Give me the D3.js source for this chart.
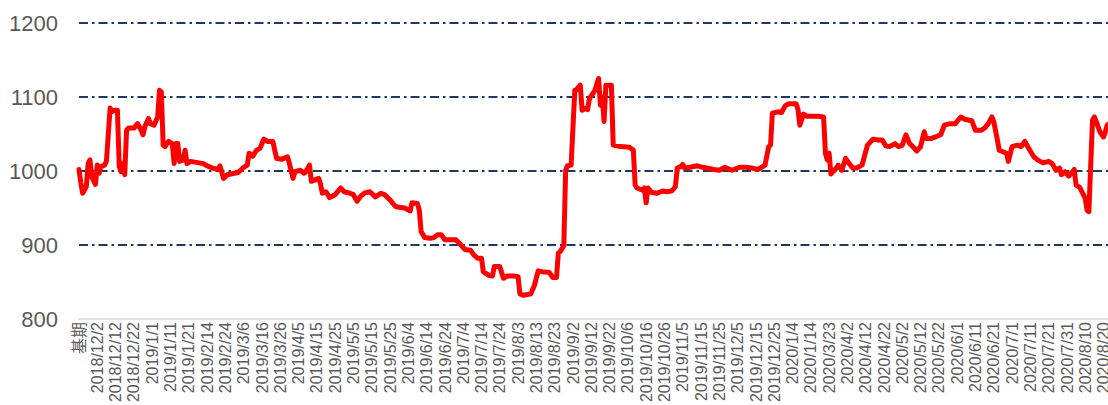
<!DOCTYPE html>
<html>
<head>
<meta charset="utf-8">
<script src="https://cdn.jsdelivr.net/npm/d3@7/dist/d3.min.js"></script>
<style>
  html, body { margin: 0; padding: 0; background: #fff; }
  svg { display: block; font-family: "Liberation Sans", Arial, "Noto Sans CJK SC", sans-serif; }
</style>
</head>
<body>
<svg id="chart" width="1108" height="405"></svg>
<script>
// category labels, one every 10 categories (index 0 is the base period)
const tickLabels = [
  "基期", "2018/12/2", "2018/12/12", "2018/12/22", "2019/1/1", "2019/1/11", "2019/1/21",
  "2019/2/14", "2019/2/24", "2019/3/6", "2019/3/16", "2019/3/26", "2019/4/5", "2019/4/15",
  "2019/4/25", "2019/5/5", "2019/5/15", "2019/5/25", "2019/6/4", "2019/6/14", "2019/6/24",
  "2019/7/4", "2019/7/14", "2019/7/24", "2019/8/3", "2019/8/13", "2019/8/23", "2019/9/2",
  "2019/9/12", "2019/9/22", "2019/10/6", "2019/10/16", "2019/10/26", "2019/11/5", "2019/11/15",
  "2019/11/25", "2019/12/5", "2019/12/15", "2019/12/25", "2020/1/4", "2020/1/14", "2020/3/23",
  "2020/4/2", "2020/4/12", "2020/4/22", "2020/5/2", "2020/5/12", "2020/5/22", "2020/6/1",
  "2020/6/11", "2020/6/21", "2020/7/1", "2020/7/11", "2020/7/21", "2020/7/31", "2020/8/10",
  "2020/8/20"
];
const LABEL_STEP = 10;
const CATEGORY_COUNT = 564;

const yTicks = [800, 900, 1000, 1100, 1200];
const gridValues = [900, 1000, 1100, 1200];

// index value, [category index, value]
const indexSeries = [
  [0, 1002], [1, 984], [2, 970], [4, 979], [5, 1010], [6, 1015], [7, 992], [9, 982],
  [10, 1008], [11, 997], [12, 1006], [14, 1008], [15, 1013], [17, 1085], [18, 1080],
  [19, 1082], [21, 1082], [22, 1006], [23, 999], [24, 1010], [25, 995], [26, 1055],
  [27, 1058], [30, 1058], [32, 1064], [34, 1055], [35, 1049], [36, 1060], [38, 1071],
  [39, 1064], [41, 1062], [43, 1073], [44, 1109], [45, 1107], [46, 1035], [47, 1033],
  [49, 1040], [51, 1037], [52, 1010], [53, 1037], [54, 1037], [55, 1013], [57, 1015],
  [58, 1028], [59, 1010], [61, 1013], [68, 1010], [70, 1007], [73, 1004], [76, 1002],
  [77, 1007], [79, 990], [81, 995], [85, 997], [87, 998], [90, 1005], [92, 1008],
  [93, 1024], [95, 1020], [97, 1028], [99, 1031], [101, 1043], [103, 1040], [106, 1040],
  [107, 1028], [108, 1017], [111, 1016], [114, 1019], [115, 1010], [117, 990], [118, 999],
  [121, 1001], [123, 997], [124, 999], [126, 1008], [127, 986], [129, 988], [131, 990],
  [132, 983], [133, 970], [135, 972], [137, 964], [140, 968], [143, 977], [145, 972],
  [148, 970], [150, 968], [152, 959], [154, 966], [156, 970], [159, 972], [162, 965],
  [165, 970], [167, 968], [170, 961], [173, 952], [175, 951], [178, 950], [181, 946],
  [182, 957], [185, 956], [186, 947], [187, 918], [189, 910], [192, 909], [194, 910],
  [196, 914], [198, 914], [200, 907], [203, 907], [206, 907], [208, 902], [211, 894],
  [214, 893], [216, 886], [218, 882], [220, 882], [221, 864], [224, 859], [226, 858],
  [227, 871], [230, 871], [232, 855], [234, 858], [238, 858], [240, 857], [241, 834],
  [243, 832], [247, 834], [249, 846], [251, 865], [253, 864], [257, 863], [259, 856],
  [261, 856], [262, 889], [263, 891], [265, 899], [266, 1001], [267, 1007], [269, 1008],
  [271, 1109], [272, 1110], [274, 1116], [275, 1082], [277, 1085], [278, 1083], [279, 1098],
  [281, 1105], [282, 1109], [284, 1125], [285, 1089], [286, 1100], [287, 1067], [288, 1116],
  [291, 1116], [292, 1035], [296, 1033], [301, 1032], [303, 1028], [304, 981], [305, 977],
  [308, 974], [309, 977], [310, 957], [311, 977], [313, 971], [316, 970], [319, 973],
  [321, 972], [324, 973], [326, 979], [327, 1004], [329, 1006], [330, 1009], [331, 1004],
  [334, 1005], [338, 1007], [341, 1005], [347, 1002], [350, 1001], [353, 1005], [357, 1001],
  [361, 1005], [364, 1005], [368, 1004], [371, 1002], [373, 1005], [375, 1008], [377, 1033],
  [378, 1035], [379, 1078], [382, 1080], [384, 1079], [386, 1088], [388, 1091], [392, 1091],
  [393, 1083], [394, 1062], [396, 1077], [398, 1074], [401, 1074], [404, 1074], [407, 1073],
  [408, 1024], [409, 1015], [410, 1024], [411, 996], [412, 999], [413, 1001], [415, 1008],
  [417, 1001], [419, 1017], [421, 1010], [423, 1004], [425, 1004], [428, 1008], [430, 1026],
  [431, 1035], [434, 1043], [437, 1042], [439, 1042], [441, 1034], [443, 1033], [446, 1037],
  [448, 1033], [450, 1035], [452, 1049], [454, 1037], [455, 1035], [458, 1027], [460, 1033],
  [462, 1053], [463, 1044], [466, 1044], [469, 1047], [471, 1049], [473, 1062], [476, 1064],
  [479, 1064], [480, 1067], [482, 1073], [484, 1070], [488, 1068], [490, 1055], [493, 1055],
  [495, 1058], [497, 1064], [499, 1073], [500, 1067], [502, 1042], [503, 1028], [505, 1026],
  [507, 1024], [508, 1013], [510, 1033], [513, 1035], [515, 1033], [517, 1040], [519, 1031],
  [522, 1019], [524, 1015], [527, 1011], [530, 1013], [532, 1010], [534, 1001], [536, 1004],
  [537, 995], [539, 999], [541, 993], [543, 999], [544, 1002], [545, 981], [547, 978],
  [549, 968], [550, 963], [551, 947], [552, 945], [554, 1069], [555, 1073], [556, 1067],
  [558, 1053], [560, 1046], [561, 1053], [562, 1062], [563, 1064]
];

const svg = d3.select("#chart");

const PLOT = { left: 79, right: 1109, top: 23, bottom: 319 };
const LINE_COLOR = "#ff0000";
const GRID_COLOR = "#1f3864";
const TEXT_COLOR = "#595959";

const x = d3.scaleLinear()
  .domain([0, CATEGORY_COUNT - 1])
  .range([PLOT.left, PLOT.right]);

const y = d3.scaleLinear()
  .domain([800, 1200])
  .range([PLOT.bottom, PLOT.top]);

// dash-dot gridlines
svg.append("g")
  .selectAll("line")
  .data(gridValues)
  .join("line")
  .attr("x1", PLOT.left)
  .attr("x2", 1108)
  .attr("y1", (d) => y(d))
  .attr("y2", (d) => y(d))
  .attr("stroke", GRID_COLOR)
  .attr("stroke-width", 2)
  .attr("stroke-dasharray", "9,4,2.5,4");

// category axis line
svg.append("line")
  .attr("x1", PLOT.left - 1)
  .attr("x2", 1108)
  .attr("y1", y(800))
  .attr("y2", y(800))
  .attr("stroke", "#d9d9d9")
  .attr("stroke-width", 1.5);

// y labels
const yAxis = d3.axisLeft(y).tickValues(yTicks).tickSize(0).tickPadding(0).tickFormat(d3.format("d"));
const yG = svg.append("g")
  .attr("transform", "translate(58,0)")
  .call(yAxis);
yG.select(".domain").remove();
yG.selectAll("text")
  .attr("fill", TEXT_COLOR)
  .attr("font-size", 22)
  .attr("font-family", "'Liberation Sans', Arial, sans-serif");

// x labels, rotated
svg.append("g")
  .selectAll("text")
  .data(tickLabels)
  .join("text")
  .attr("transform", (d, i) => `translate(${x(i * LABEL_STEP)},${PLOT.bottom + 3}) rotate(-90)`)
  .attr("text-anchor", "end")
  .attr("dy", "0.35em")
  .attr("fill", TEXT_COLOR)
  .attr("font-size", 16)
  .text((d) => d);

// index line
const line = d3.line()
  .x((d) => x(d[0]))
  .y((d) => y(d[1]));

svg.append("path")
  .datum(indexSeries)
  .attr("d", line)
  .attr("fill", "none")
  .attr("stroke", LINE_COLOR)
  .attr("stroke-width", 5)
  .attr("stroke-linejoin", "round")
  .attr("stroke-linecap", "round");
</script>
</body>
</html>
